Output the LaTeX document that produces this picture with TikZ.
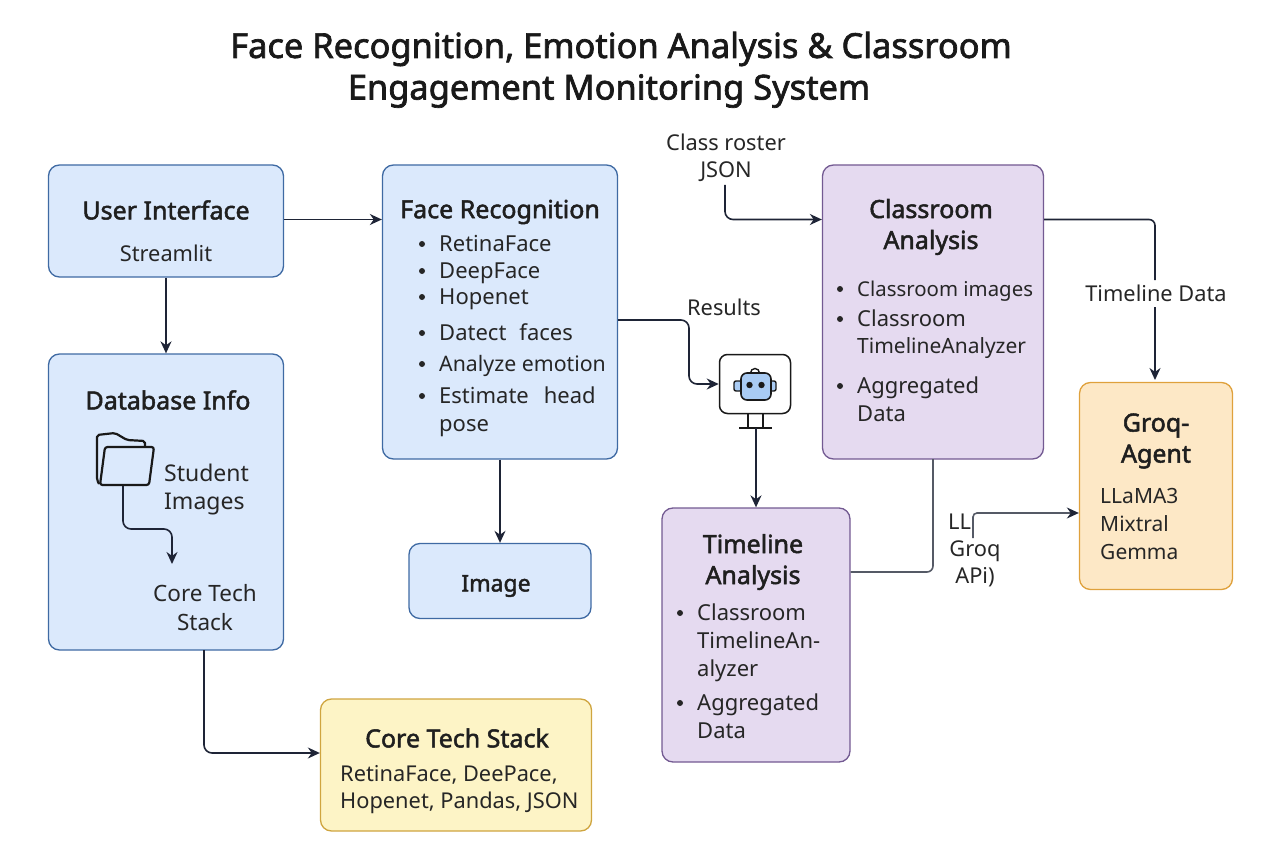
\documentclass[tikz,border=0pt]{standalone}
\usepackage{fontspec}
\setmainfont{Noto Sans}
\newfontfamily\hdfont[FakeBold=2]{Noto Sans}
\usetikzlibrary{arrows.meta,positioning}
\definecolor{ink}{HTML}{1E2436}
\definecolor{bluef}{HTML}{DBE9FC}\definecolor{blued}{HTML}{3F6AA3}
\definecolor{purf}{HTML}{E5DAF0}\definecolor{purd}{HTML}{735A92}
\definecolor{orf}{HTML}{FDE8C6}\definecolor{ord}{HTML}{DFA13C}
\definecolor{yelf}{HTML}{FDF4C6}\definecolor{yeld}{HTML}{CFA540}
\definecolor{greyl}{HTML}{555A66}
\definecolor{botf}{HTML}{A9CBF3}
\tikzset{
 panel/.style={draw,line width=1.3pt,rounded corners=11pt,inner sep=0pt,minimum width=#1},
 blue/.style={fill=bluef,draw=blued},
 pur/.style={fill=purf,draw=purd},
 ora/.style={fill=orf,draw=ord},
 yel/.style={fill=yelf,draw=yeld},
 head/.style={font=\fontsize{25}{31}\selectfont\hdfont\color{black!88},align=center,inner sep=0pt},
 txt/.style={font=\fontsize{22}{28}\selectfont\color{black!85},align=center,inner sep=0pt},
 txl/.style={txt,anchor=base west,align=left},
 lbl/.style={font=\fontsize{21.8}{27}\selectfont\color{black!85},align=center,inner sep=0pt},
 conn/.style={draw=ink,line width=1.6pt,rounded corners=8pt,-{Stealth[length=12pt,width=11pt]}},
 plainline/.style={line width=1.6pt,rounded corners=6pt},
 titl/.style={font=\fontsize{34.4}{43}\selectfont\hdfont\color{black!90},inner sep=0pt},
}
\newcommand{\bul}[3]{\fill[black!85] (#1-17,#2) circle (3pt); \node[txl] at (#1,#2+7.5) {#3};}
\begin{document}
\begin{tikzpicture}[x=1pt,y=-1pt]
\useasboundingbox (0,0) rectangle (1280,853);
\node[titl] (title1) at (621,49) {Face Recognition, Emotion Analysis \& Classroom};
\node[titl] (title2) at (609,91) {Engagement Monitoring System};
% boxes
\node[panel=235pt,minimum height=112pt,blue] (ui) at (166,221) {};
\node[panel=235pt,minimum height=296pt,blue] (db) at (166,502) {};
\node[panel=235pt,minimum height=294pt,blue] (face) at (500,312) {};
\node[panel=182pt,minimum height=75pt,blue] (img) at (500,581) {};
\node[panel=271pt,minimum height=132pt,yel] (core) at (456,765) {};
\node[panel=221pt,minimum height=294pt,pur] (class) at (933,312) {};
\node[panel=188pt,minimum height=254pt,pur] (time) at (756,635) {};
\node[panel=153pt,minimum height=207pt,ora] (groq) at (1156,486) {};
% UI
\node[head] (uih) at (166,210) {User Interface};
\node[lbl] (uit) at (166,253) {Streamlit};
% DB
\node[head] (dbh) at (168,400) {Database Info};
\node[font=\fontsize{23}{28}\selectfont\color{black!85},anchor=base west,align=left,inner sep=0pt] (stu) at (164,509) {Student\\Images};
\node[font=\fontsize{22.5}{29}\selectfont\color{black!85},align=center,inner sep=0pt] (cts) at (205,608) {Core Tech\\Stack};
% folder
\coordinate (fld) at (123,486);
\draw[line width=2.2pt,black!90,line join=round,rounded corners=2pt] (99,484) -- (97,480) -- (97,435) -- (115,433) -- (127,440) -- (145,441) -- (145,447);
\draw[line width=2.2pt,black!90,line join=round,rounded corners=2.5pt] (100,485) -- (105,447) -- (154,447) -- (149,485) -- cycle;
\draw[conn] (fld) -- (123,529) -- (172,529) -- (172,564);
% Face
\node[head] (fh) at (500,212) {Face Recognition};
\bul{439}{244}{RetinaFace}
\bul{439}{271}{DeepFace}
\bul{439}{297}{Hopenet}
\bul{439}{333}{Datect\hspace{13pt}faces}
\bul{439}{364}{\fontsize{21.3}{28}\selectfont Analyze emotion}
\bul{439}{396}{Estimate\hspace{15pt}head}
\node[txl] (pose) at (439,431.5) {pose};
\node[head,font=\fontsize{23}{31}\selectfont\hdfont\color{black!88}] (imgt) at (496,586) {Image};
% Core
\node[head] (ch) at (457,738) {Core Tech Stack};
\node[lbl,anchor=west,align=left] (ct) at (340,790) {RetinaFace, DeePace,\\Hopenet, Pandas, JSON};
% Classroom
\node[head] (clh) at (931,227) {Classroom\\Analysis};
\bul{857}{289}{\fontsize{20.4}{28}\selectfont Classroom images}
\bul{857}{319}{Classroom}
\node[txl,font=\fontsize{21}{28}\selectfont\color{black!85}] (cl2) at (857,353.5) {TimelineAnalyzer};
\bul{857}{386}{Aggregated}
\node[txl] (cl3) at (857,421.5) {Data};
% Timeline
\node[head] (th) at (753,562) {Timeline\\Analysis};
\bul{697}{613}{Classroom}
\node[txl] (t2) at (697,648.5) {TimelineAn-};
\node[txl] (t3) at (697,676.5) {alyzer};
\bul{697}{703}{Aggregated}
\node[txl] (t4) at (697,738.5) {Data};
% Groq
\node[head] (gh) at (1156,441) {Groq-\\Agent};
\node[font=\fontsize{21}{28}\selectfont\color{black!85},anchor=west,align=left,inner sep=0pt] (gt) at (1100,524) {LLaMA3\\Mixtral\\Gemma};
% robot
\node[draw=black!90,line width=1.5pt,rounded corners=8pt,fill=white,minimum width=71pt,minimum height=59pt,inner sep=0pt] (bot) at (755,384) {};
\draw[black!90,line width=1.3pt] (748,413) -- (748,428) (763,413) -- (763,428);
\draw[black!90,line width=1.5pt] (739,428) -- (772,428);
\coordinate (stand) at (756,428);
\draw[line width=1.4pt,fill=botf,draw=black!90,rounded corners=2pt] (734,381) rectangle (742,391) (768,381) rectangle (776,391);
\draw[line width=1.4pt,draw=black!90,fill=white] (750.5,373) arc (180:0:4.5pt);
\draw[line width=1.6pt,fill=botf,draw=black!90,rounded corners=6pt] (741,373) -- (771,373) -- (771,400) -- (741,400) -- cycle;
\fill[black!90] (749.5,385) circle (3.2pt) (761.5,385) circle (3.2pt);
% labels
\node[lbl] (roster) at (726,158) {Class roster\\JSON};
\node[lbl] (res) at (724,307) {Results};
\node[lbl] (tld) at (1156,293) {Timeline Data};
\node[lbl,anchor=west] (ll) at (948,522) {LL};
\node[lbl] (gapi) at (975,564) {Groq\\APi)};
% connectors
\draw[conn] (ui.east |- 0,219.5) -- (face.west |- 0,219.5);
\draw[conn] (ui) -- (db) ;
\draw[conn] (725,185) -- (725,219.5) -- (class.west |- 0,219.5);
\draw[conn] (face.east |- 0,320) -- (689,320) -- (689,384) -- (bot.west);
\draw[conn] (stand) -- (stand |- time.north);
\draw[conn] (face.south) -- (img.north);
\draw[conn] (204,650) -- (204,753) -- (core.west |- 0,753);
\draw[plainline,draw=ink] (class.east |- 0,219.5) -- (1155,219.5) -- (1155,280);
\draw[conn] (1155,307) -- (1155,380);
\draw[plainline,draw=greyl] (933,459) -- (933,572) -- (time.east |- 0,572);
\coordinate (llc) at (973,538);
\draw[conn,rounded corners=4pt,draw=greyl,-{Stealth[length=12pt,width=11pt,color=ink]}] (llc) -- (973,513) -- (groq.west |- 0,513);
\end{tikzpicture}
\end{document}
